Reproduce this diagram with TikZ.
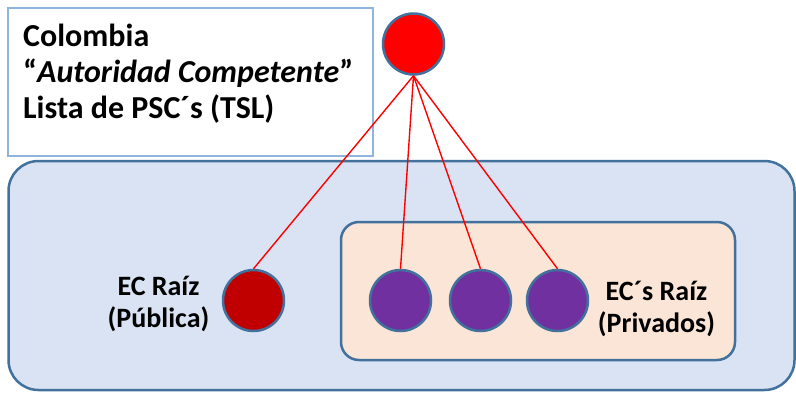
\documentclass[tikz,border=0pt]{standalone}
\usepackage{fontspec}
\setmainfont{Carlito}
\definecolor{edgeblue}{HTML}{41719C}
\definecolor{boxblue}{HTML}{8FB4DE}
\definecolor{panelblue}{HTML}{DAE3F3}
\definecolor{panelpeach}{HTML}{FBE5D6}
\definecolor{topred}{HTML}{FF0000}
\definecolor{darkred}{HTML}{C00000}
\definecolor{purp}{HTML}{7030A0}
\tikzset{
  panel/.style={draw=edgeblue, line width=2.5pt, rectangle, inner sep=0pt},
  ca/.style={circle, draw=edgeblue, line width=2.5pt, minimum size=61pt, inner sep=0pt},
  link/.style={draw=topred, line width=1.4pt},
  bigtxt/.style={font=\fontsize{32}{38}\selectfont\bfseries, inner sep=0pt, anchor=base west},
  lbl/.style={font=\fontsize{28}{33}\selectfont\bfseries, inner sep=0pt, anchor=base}
}
\begin{document}
\begin{tikzpicture}[x=1pt,y=-1pt]
\useasboundingbox (0,0) rectangle (796,392);
% outer panel
\node[panel, fill=panelblue, rounded corners=30pt, minimum width=786pt, minimum height=229pt] (outer) at (401.5,275.5) {};
% inner panel
\node[panel, fill=panelpeach, rounded corners=18pt, minimum width=394pt, minimum height=138pt] (inner) at (538,291) {};
% title box
\node[draw=boxblue, fill=white, line width=2pt, rectangle, inner sep=0pt, minimum width=365pt, minimum height=148pt] (title) at (190.5,82) {};
\node[bigtxt] (t1) at (23,46) {Colombia};
\node[bigtxt] (t2) at (23,82) {“\textit{Autoridad Competente}”};
\node[bigtxt] (t3) at (23,118) {Lista de PSC´s (TSL)};
% circles
\node[ca, fill=topred] (top) at (413.5,44) {};
\node[ca, fill=darkred] (pub) at (253.5,300.5) {};
\node[ca, fill=purp] (p1) at (400.5,300.5) {};
\node[ca, fill=purp] (p2) at (480.5,300.5) {};
\node[ca, fill=purp] (p3) at (557.5,300.5) {};
% links
\draw[link] (top.south) -- (pub.north);
\draw[link] (top.south) -- (p1.north);
\draw[link] (top.south) -- (p2.north);
\draw[link] (top.south) -- (p3.north);
% labels
\node[lbl] (l1) at (158.5,295) {EC Raíz};
\node[lbl] (l2) at (158.5,327) {(Pública)};
\node[lbl] (l3) at (656.5,300) {EC´s Raíz};
\node[lbl] (l4) at (656.5,332) {(Privados)};
\end{tikzpicture}
\end{document}
